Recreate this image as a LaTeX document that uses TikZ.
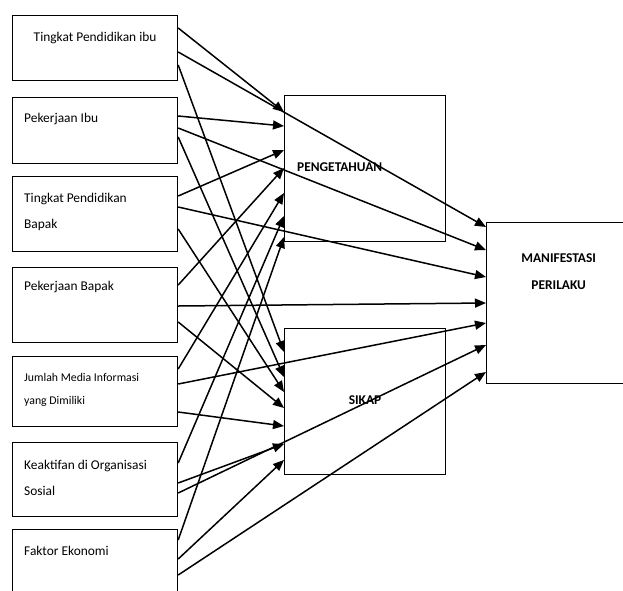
\documentclass[tikz,border=0pt]{standalone}
\usepackage{fontspec}
\setmainfont{Carlito}
\usetikzlibrary{arrows.meta}
\tikzset{
  box/.style={draw, line width=1.2pt, anchor=north west, inner sep=0pt},
  lbl/.style={anchor=base west, inner sep=0pt, align=left, font=\fontsize{13.4}{26}\selectfont},
  hd/.style={anchor=base, inner sep=0pt, align=center, font=\bfseries\fontsize{13.4}{27}\selectfont},
  arr/.style={line width=1.5pt, -{Triangle[length=11pt,width=9pt]}}
}
\begin{document}
\begin{tikzpicture}[x=1pt, y=-1pt]
\useasboundingbox (0,0) rectangle (623,590);
\clip (0,0) rectangle (623,590);
% left column
\node[box, minimum width=165pt, minimum height=65pt] (b1) at (12,15) {};
\node[box, minimum width=165pt, minimum height=66pt] (b2) at (12,97) {};
\node[box, minimum width=165pt, minimum height=75pt] (b3) at (12,176) {};
\node[box, minimum width=165pt, minimum height=75pt] (b4) at (12,267) {};
\node[box, minimum width=165pt, minimum height=70pt] (b5) at (12,356) {};
\node[box, minimum width=165pt, minimum height=74pt] (b6) at (12,442) {};
\node[box, minimum width=165pt, minimum height=75pt] (b7) at (12,529) {};
% base of a two-line label = its last line
\node[lbl, anchor=base, align=center] (t1) at ([yshift=-26pt]b1.north) {Tingkat Pendidikan ibu};
\node[lbl] (t2) at ([xshift=12pt, yshift=-25pt]b2.north west) {Pekerjaan Ibu};
\node[lbl] (t3) at ([xshift=12pt, yshift=-52pt]b3.north west) {Tingkat Pendidikan\\Bapak};
\node[lbl] (t4) at ([xshift=12pt, yshift=-23pt]b4.north west) {Pekerjaan Bapak};
\node[lbl, font=\fontsize{11.8}{23}\selectfont] (t5) at ([xshift=12pt, yshift=-48pt]b5.north west) {Jumlah Media Informasi\\yang Dimiliki};
\node[lbl] (t6) at ([xshift=12pt, yshift=-53pt]b6.north west) {Keaktifan di Organisasi\\Sosial};
\node[lbl] (t7) at ([xshift=12pt, yshift=-26pt]b7.north west) {Faktor Ekonomi};
% middle and right
\node[box, line width=1pt, minimum width=161pt, minimum height=146pt] (peng) at (284,95) {};
\node[box, line width=1pt, minimum width=161pt, minimum height=146pt] (sikap) at (284,328) {};
\node[box, line width=1.4pt, minimum width=144pt, minimum height=161pt] (mani) at (486,222) {};
\node[hd, anchor=base west] (tp) at ([xshift=13pt, yshift=-76pt]peng.north west) {PENGETAHUAN};
\node[hd] (ts) at ([yshift=-76pt]sikap.north) {SIKAP};
\node[hd] (tm) at ([yshift=-67pt]mani.north) {MANIFESTASI\\PERILAKU};
% to PENGETAHUAN
\draw[arr] ([yshift=-13pt]b1.north east) -- ([yshift=-17pt]peng.north west);
\draw[arr] ([yshift=-19pt]b2.north east) -- ([yshift=-31pt]peng.north west);
\draw[arr] ([yshift=-20pt]b3.north east) -- ([yshift=-55pt]peng.north west);
\draw[arr] ([yshift=-18pt]b4.north east) -- ([yshift=-73pt]peng.north west);
\draw[arr] ([yshift=-13pt]b5.north east) -- ([yshift=-98pt]peng.north west);
\draw[arr] ([yshift=-21pt]b6.north east) -- ([yshift=-121pt]peng.north west);
\draw[arr] ([yshift=-11pt]b7.north east) -- ([yshift=-142pt]peng.north west);
% to SIKAP
\draw[arr] ([yshift=-50pt]b1.north east) -- ([yshift=-24pt]sikap.north west);
\draw[arr] ([yshift=-40pt]b2.north east) -- ([yshift=-49pt]sikap.north west);
\draw[arr] ([yshift=-53pt]b3.north east) -- ([yshift=-64pt]sikap.north west);
\draw[arr] ([yshift=-55pt]b4.north east) -- ([yshift=-80pt]sikap.north west);
\draw[arr] ([yshift=-56pt]b5.north east) -- ([yshift=-98pt]sikap.north west);
\draw[arr] ([yshift=-41pt]b6.north east) -- ([yshift=-116pt]sikap.north west);
\draw[arr] ([yshift=-30pt]b7.north east) -- ([yshift=-132pt]sikap.north west);
% to MANIFESTASI PERILAKU
\draw[arr] ([yshift=-37pt]b1.north east) -- ([yshift=-5pt]mani.north west);
\draw[arr] ([yshift=-31pt]b2.north east) -- ([yshift=-28pt]mani.north west);
\draw[arr] ([yshift=-31pt]b3.north east) -- ([yshift=-55pt]mani.north west);
\draw[arr] ([yshift=-39pt]b4.north east) -- ([yshift=-81pt]mani.north west);
\draw[arr] ([yshift=-28pt]b5.north east) -- ([yshift=-101pt]mani.north west);
\draw[arr] ([yshift=-51pt]b6.north east) -- ([yshift=-123pt]mani.north west);
\draw[arr] ([yshift=-46pt]b7.north east) -- ([yshift=-150pt]mani.north west);
\end{tikzpicture}
\end{document}
